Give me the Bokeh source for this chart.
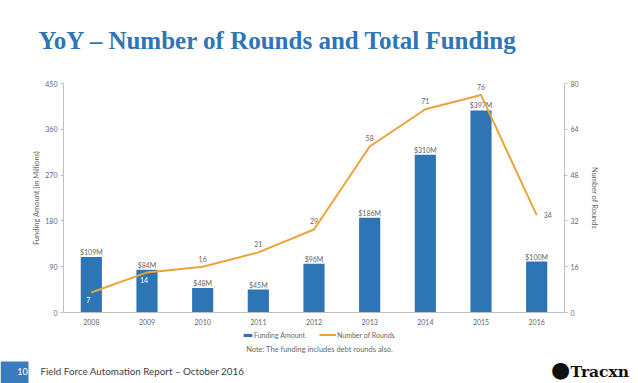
from bokeh.plotting import figure
from bokeh.layouts import column
from bokeh.models import (Range1d, LinearAxis, FixedTicker, Label, Legend, LegendItem,
                          ColumnDataSource, FactorRange, CDSView, IndexFilter, BoxAnnotation)
from bokeh.core.properties import value
from bokeh.embed import file_html
from bokeh.resources import INLINE

# ---- data ----
years = ["2008", "2009", "2010", "2011", "2012", "2013", "2014", "2015", "2016"]
funding = [109, 84, 48, 45, 96, 186, 310, 397, 100]
funding_labels = ["$109M", "$84M", "$48M", "$45M", "$96M", "$186M", "$310M", "$397M", "$100M"]
rounds = [7, 14, 16, 21, 29, 58, 71, 76, 34]
left_ticks = [0, 90, 180, 270, 360, 450]
right_ticks = [0, 16, 32, 48, 64, 80]

BLUE = "#2E75B6"
ORANGE = "#EBA33A"
GREY = "#666666"
AXIS = "#BFBFBF"
FONT = "Lato"
W = 638
NAN = float("nan")


def strip(height):
    """A plain drawing area (frame fills the whole figure) for texts around the chart."""
    s = figure(width=W, height=height, x_range=Range1d(0, W), y_range=Range1d(0, height),
               x_axis_type=None, y_axis_type=None, output_backend="svg",
               toolbar_location=None, min_border=0, title=None)
    s.outline_line_color = None
    s.background_fill_color = "white"
    s.border_fill_color = "white"
    s.frame_align = False
    return s


# ---- title strip ----
t = strip(66)
t.add_layout(Label(x=38, y=26, x_units="screen", y_units="screen",
                   text="YoY \u2013 Number of Rounds and Total Funding",
                   text_font="Liberation Serif", text_font_style="bold",
                   text_font_size="25px", text_color="#2F74B5", text_baseline="middle"))

# ---- main chart ----
src = ColumnDataSource(dict(year=years, funding=funding, flabel=funding_labels,
                            rounds=rounds, rlabel=[str(r) for r in rounds]))

p = figure(width=W, height=262, x_range=FactorRange(*years), y_range=Range1d(0, 450),
           output_backend="svg", toolbar_location=None, title=None,
           min_border_left=63, min_border_right=74, min_border_top=17, min_border_bottom=16)
p.frame_align = False
p.outline_line_color = None
p.xgrid.visible = False
p.ygrid.visible = False
p.background_fill_color = "white"
p.border_fill_color = "white"


def style_y(ax):
    ax.axis_line_color = AXIS
    ax.major_tick_line_color = AXIS
    ax.major_tick_out = 3
    ax.major_tick_in = 0
    ax.minor_tick_line_color = None
    ax.major_label_text_font = FONT
    ax.major_label_text_font_size = "7px"
    ax.major_label_text_color = GREY
    ax.major_label_standoff = 3
    ax.axis_label_text_font = FONT
    ax.axis_label_text_font_size = "7.5px"
    ax.axis_label_text_font_style = "normal"
    ax.axis_label_text_color = GREY


ly = p.yaxis[0]
ly.ticker = FixedTicker(ticks=left_ticks)
ly.axis_label = "Funding Amount (in Millions)"
style_y(ly)
ly.axis_label_standoff = 1

xa = p.xaxis[0]
xa.axis_line_color = AXIS
xa.major_tick_line_color = None
xa.major_tick_out = 0
xa.major_tick_in = 0
xa.major_label_standoff = 6
xa.major_label_text_font = FONT
xa.major_label_text_font_size = "7px"
xa.major_label_text_color = GREY

p.extra_y_ranges = {"rounds": Range1d(0, 80)}
ry = LinearAxis(y_range_name="rounds", ticker=FixedTicker(ticks=right_ticks),
                axis_label="Number of Rounds")
style_y(ry)
ry.axis_label_standoff = 8
p.add_layout(ry, "right")

p.vbar(x="year", top="funding", width=0.38, source=src, fill_color=BLUE, line_color=None)
p.text(x="year", y="funding", text="flabel", source=src, text_align="center",
       text_baseline="bottom", y_offset=-1, text_font=value(FONT),
       text_font_size="7px", text_color=GREY)

p.line(x="year", y="rounds", source=src, y_range_name="rounds",
       line_color=ORANGE, line_width=2)

inside = CDSView(filter=IndexFilter([0, 1]))
above = CDSView(filter=IndexFilter([2, 3, 4, 5, 6, 7]))
right = CDSView(filter=IndexFilter([8]))
p.text(x="year", y="rounds", text="rlabel", source=src, view=inside, y_range_name="rounds",
       text_align="center", text_baseline="middle", x_offset=-3, y_offset=8,
       text_font=value(FONT), text_font_size="7px", text_color="white")
p.text(x="year", y="rounds", text="rlabel", source=src, view=above, y_range_name="rounds",
       text_align="center", text_baseline="middle", y_offset=-8,
       text_font=value(FONT), text_font_size="7px", text_color=GREY)
p.text(x="year", y="rounds", text="rlabel", source=src, view=right, y_range_name="rounds",
       text_align="left", text_baseline="middle", x_offset=7,
       text_font=value(FONT), text_font_size="7px", text_color=GREY)

# ---- legend + note strip ----
m = strip(27)
bar_key = m.vbar(x=[NAN], top=[NAN], width=1, fill_color=BLUE, line_color=None)
line_key = m.line(x=[NAN], y=[NAN], line_color=ORANGE, line_width=2)
common = dict(orientation="horizontal", label_standoff=1, padding=0, margin=0,
              border_line_color=None, background_fill_alpha=0, label_height=9,
              label_text_font=FONT, label_text_font_size="7px", label_text_color=GREY)
m.add_layout(Legend(items=[LegendItem(label="Funding Amount", renderers=[bar_key])],
                    location=(242, 16), glyph_width=11, glyph_height=4, **common))
m.add_layout(Legend(items=[LegendItem(label="Number of Rounds", renderers=[line_key])],
                    location=(319, 16), glyph_width=17, glyph_height=9, **common))
m.add_layout(Label(x=319, y=6, x_units="screen", y_units="screen",
                   text="Note: The funding includes debt rounds also.",
                   text_font=FONT, text_font_size="7.5px", text_color=GREY,
                   text_align="center", text_baseline="middle"))

# ---- footer strip ----
f = strip(28)
f.add_layout(BoxAnnotation(left=0, right=28, bottom=0, top=22,
                           fill_color="#3B7BBF", fill_alpha=1, line_color=None))
f.add_layout(Label(x=22, y=12, x_units="screen", y_units="screen", text="10",
                   text_font=FONT, text_font_size="9px", text_color="white",
                   text_align="center", text_baseline="middle"))
f.add_layout(Label(x=40, y=13, x_units="screen", y_units="screen",
                   text="Field Force Automation Report \u2013 October 2016",
                   text_font=FONT, text_font_size="9.8px", text_color="#404040",
                   text_baseline="middle"))
f.add_layout(Label(x=560, y=14, x_units="screen", y_units="screen",
                   text="\u25cf", text_font="DejaVu Sans", text_font_size="22px",
                   text_color="#111111", text_align="center", text_baseline="middle"))
f.add_layout(Label(x=570, y=12, x_units="screen", y_units="screen",
                   text="Tracxn", text_font="DejaVu Serif", text_font_style="bold",
                   text_font_size="15.5px", text_color="#111111", text_baseline="middle"))

layout = column(t, p, m, f, spacing=0)
open("out.html", "w").write(file_html(layout, INLINE))
